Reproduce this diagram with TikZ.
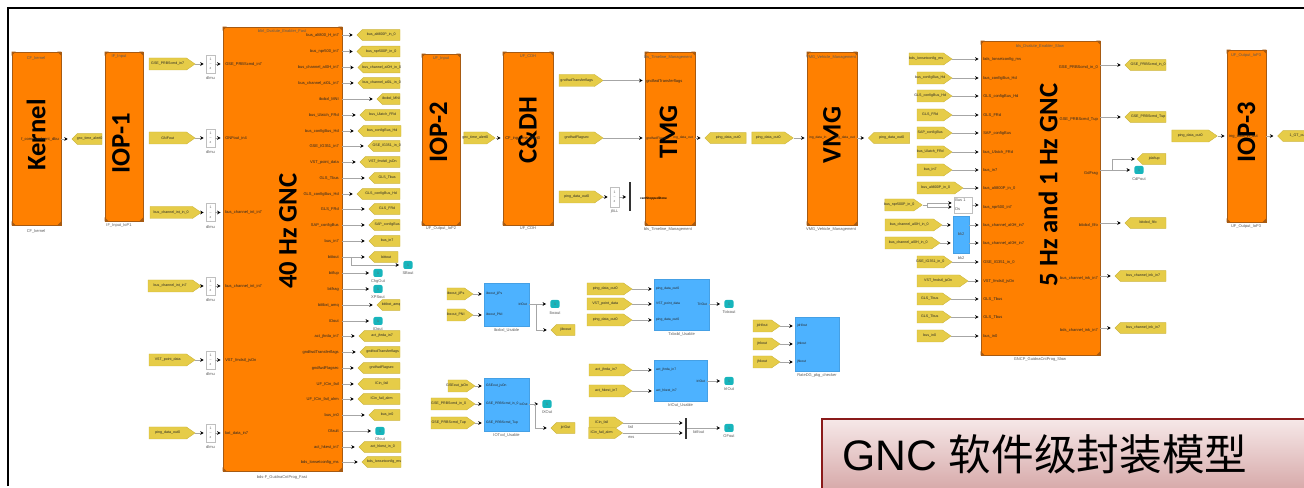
\documentclass[tikz,border=0pt]{standalone}
\usepackage{fontspec}
\setmainfont{Liberation Sans}
\newfontfamily\cjk{Noto Sans CJK SC}
\newfontfamily\cali{Carlito}[BoldFont=Carlito Bold]
\usetikzlibrary{shapes.symbols,arrows.meta,positioning}
\definecolor{og}{HTML}{FF8000}
\definecolor{ogd}{HTML}{A65A12}
\definecolor{blu}{HTML}{4DB2FF}
\definecolor{tagf}{HTML}{E6CC48}
\definecolor{tagd}{HTML}{CDB53C}
\definecolor{teal2}{HTML}{17B5BC}
\definecolor{frm}{HTML}{8A1A1A}
\definecolor{gtop}{HTML}{F6E8E8}
\definecolor{gbot}{HTML}{D6A8A8}
\catcode`\_=12
\tikzset{
  tiny3/.style={font=\fontsize{3}{3.4}\selectfont,inner sep=0pt},
  porttxt/.style={tiny3,text=black!85},
  bluetxt/.style={font=\fontsize{2.5}{3}\selectfont,inner sep=0pt,text=black!85},
  caption/.style={tiny3,text=black!65},
  tagbase/.style={shape=signal,draw=tagd,fill=tagf,line width=.3pt,inner sep=0pt,
    font=\fontsize{2.7}{3}\selectfont,text=black!85},
  tagl/.style={tagbase,signal to=west,signal pointer angle=90,minimum height=8pt,xshift=2pt},
  tagr/.style={tagbase,signal to=east,signal pointer angle=70,minimum height=9pt,xshift=-3.2pt},
  oblock/.style={draw=ogd,fill=og,line width=.5pt,inner sep=0pt},
  bblock/.style={fill=blu,draw=blu!90!black,line width=.2pt,inner sep=0pt},
  bigt/.style={font=\cali\bfseries\fontsize{20}{20}\selectfont,rotate=90,inner sep=0pt,text=black},
  wire/.style={draw=black!35,line width=.55pt,-{Stealth[black,length=2.6pt,width=2.8pt]},shorten >=1.6pt},
  wireb/.style={wire,shorten >=3pt},
  plain/.style={draw=black!35,line width=.55pt},
  dlybox/.style={draw=black!25,fill=white,line width=.3pt,minimum width=6.8pt,minimum height=13.5pt,inner sep=0pt,
    font=\fontsize{2.6}{3}\selectfont,text=black!60},
  term/.style={fill=teal2,rounded corners=1.5pt,minimum width=7pt,minimum height=6pt,inner sep=0pt,
    font=\fontsize{2.6}{3}\selectfont,text=black!60},
  busbar/.style={fill=black!80,minimum width=1.5pt,inner sep=0pt},
}
\begin{document}
\begin{tikzpicture}[x=.75pt,y=-.75pt]
\useasboundingbox (0,0) rectangle (1304,488);
% frame
\coordinate (fa) at (8,486); \coordinate (fb) at (8,8.5); \coordinate (fc) at (1304,8.5);
\draw[black,line width=1.5pt] (fa) -- (fb) -- (fc);

% orange blocks
\foreach \n/\xa/\ya/\xb/\yb in {ker/12/52/61/225,iopa/105/52/143/221,gfa/223/27/342/471,iopb/422/54/460/225,cdh/503/52/553/225,tmg/645/52/695/225,vmg/807/52/857/225,gfb/981/41/1100/355,iopc/1227/50/1266/222}{
  \node[oblock,minimum width={(\xb-\xa)*.75pt},minimum height={(\yb-\ya)*.75pt}] (\n) at ({(\xa+\xb)/2},{(\ya+\yb)/2}) {};
  \fill[ogd] (\n.north west) -- ++(4,0) -- ++(-4,4) -- cycle;
  \fill[ogd] (\n.north east) -- ++(-4,0) -- ++(4,4) -- cycle;
  \fill[ogd] (\n.south west) -- ++(4,0) -- ++(-4,-4) -- cycle;
  \fill[ogd] (\n.south east) -- ++(-4,0) -- ++(4,-4) -- cycle;
}
% big titles
\node[bigt] (tker) at (36,135) {Kernel};
\node[bigt] (tiopa) at (121,143) {IOP-1};
\node[bigt] (tgfa) at (288,231) {40 Hz GNC};
\node[bigt] (tiopb) at (438.5,132) {IOP-2};
\node[bigt] (tcdh) at (527.5,130) {C\&DH};
\node[bigt] (ttmg) at (668.5,132) {TMG};
\node[bigt] (tvmg) at (832,135) {VMG};
\node[bigt] (tgfb) at (1048,185) {5 Hz and 1 Hz GNC};
\node[bigt] (tiopc) at (1246.5,132) {IOP-3};
% block captions
\foreach \i/\x/\y/\t in {a/36/58/CF_kernel,b/36/231/CF_kernel,c/119/57/IF_Input,d/119/226/IF_Input_IoP1,e/282/31/bltrl_Dvalute_Enabler_Fast,f/282/477/bds-F_GuidnaCntProg_Fast,g/441/59/UF_Input,h/441/229/UF_Output_IoP2,i/528/57/UF_CDH,j/528/229/UF_CDH,k/668/57/bls_Timeline_Management,l/668/229/bls_Timeline_Management,m/831/57/VMG_Vehicle_Management,n/831/229/VMG_Vehicle_Management,o/1040/46/bls_Dvalute_Enabler_Slow,p/1040/359/GNCP_GuidnaCntProg_Slow,q/1246/56/UF_Output_IoP3,r/1246/227/UF_Output_IoP3}{
  \node[caption] (cap\i) at (\x,\y) {\t};
}

% Kernel - IOP-1 etc.
\node[porttxt,anchor=east] (pker) at (59,139) {f_commandsent_dbu};
\node[tagl,minimum width=22.5pt] (tk) at (87,139) {\makebox[0pt]{gnc_time_alert0}};
\draw[wireb] (ker.east |- tk) -- (tk.west);

% 40 Hz left inputs
\foreach \i/\y/\a/\b/\p/\t in {1/64/149/195/GSE_PRBScmd_in7/GSE_PRBScmd_in7,2/138/149/195/GNFout_in4/GNFout,3/212.5/150/201/bus_channel_int_in7/bus_channel_int_in_0,4/286/148/201/bus_channel_int_in7/bus_channel_int_in7,5/360/149/195/VST_fmdstl_jsOn/VST_point_data,6/433/149/195/bxt_data_in7/ping_data_out0}{
  \node[tagr,minimum width={(\b-\a)*.75pt}] (ia\i) at ({(\a+\b)/2},\y) {\makebox[0pt]{\t}};
  \node[dlybox] (da\i) at (210.5,\y) {\shortstack{1\\[-.5pt]--\\[-.5pt]z}};
  \node[caption,below=2.5pt of da\i] (dc\i) {dlmu};
  \node[porttxt,anchor=west] (ip\i) at (225,\y) {\p};
  \draw[wire] (ia\i.east) -- (da\i.west);
  \draw[wire] (da\i.east) -- (gfa.west |- da\i.east);
}

% 40 Hz right outputs
\foreach \i/\y/\a/\b/\p/\t in {1/35/357/400/bus_alt800_H_in7/bus_alt800P_in_0,2/51.5/357/400/bus_npr500_in7/bus_npr500P_in_0,3/67.5/358/400/bus_channel_aI0H_in7/bus_channel_aI0H_in_0,4/83/358/400/bus_channel_aI0L_in7/bus_channel_aI0L_in_0,5/99/377/400/ibxbxl_MNI/ibxbxl_MNI,6/115/360/400/bus_Ulatch_FRd/bus_Ulatch_FRd,7/131/358/401/bus_configBus_Hd/bus_configBus_Hd,8/146/368/400/GSE_IG351_in7/GSE_IG351_in_0,9/162/360/400/VST_point_data/VST_fmdstl_jsOn,10/178/369/400/GLS_Tbus/GLS_Tbus,11/194/357/400/GLS_configBus_Hd/GLS_configBus_Hd,12/209/369/400/GLS_FRd/GLS_FRd,13/225/369/400/SAP_configBus/SAP_configBus,14/241/369/400/bus_in7/bus_in7,15/257/369/398/bittout/bittout,18/305/377/400/bittbxt_amq/bittbxt_amq,20/336/359/400/act_jhrda_in7/act_jhrda_in7,21/352/360/400/gndfwdTransferflags/gndfwdTransferflags,22/368/358/400/gndfwdFlagsec/gndfwdFlagsec,23/384/358/400/UF_ICin_fail/ICin_fail,24/399/358/400/UF_ICin_fail_alrm/ICin_fail_alrm,25/415/369/400/bus_in0/bus_in0,27/447/359/401/act_hkest_in7/act_hkest_in_0,28/462/362/401/bds_Ionsetconfig_ms/bds_Ionsetconfig_ms}{
  \node[tagl,minimum width={(\b-\a)*.75pt}] (oa\i) at ({(\a+\b)/2},\y) {\makebox[0pt]{\t}};
  \node[porttxt,anchor=east] (op\i) at (339,\y) {\p};
  \draw[wireb] (gfa.east |- oa\i) -- (oa\i.west);
}
% 40 Hz teal terminators
\foreach \i/\y/\x/\p/\t in {16/273/378/bitfup/ChgOut,17/289/378/bitfrag/XPSout,19/321/378/IDout/IDout,26/431/380/Ofault/Ofout}{
  \node[term] (ta\i) at (\x,\y) {1};
  \node[caption,below=1.5pt of ta\i] (tc\i) {\t};
  \node[porttxt,anchor=east] (tp\i) at (339,\y) {\p};
  \draw[wireb] (gfa.east |- ta\i) -- (ta\i.west);
}
\coordinate (ja) at (351,257);
\node[term] (tsb) at (408,265) {1};
\node[caption,below=1.5pt of tsb] (tcsb) {SBout};
\draw[wireb] (ja) |- (tsb.west);

% IOP-2 / C&DH
\node[tagr,minimum width=23.5pt] (i2) at (479.5,138) {\makebox[0pt]{gnc_time_alert0}};
\draw[wire] (i2.east) -- (cdh.west |- i2.east);
\node[porttxt,anchor=west] (pc) at (505,138) {CF_ing_time_alert0};
% TMG inputs
\node[tagr,minimum width=33pt] (tm1) at (581,80.5) {\makebox[0pt]{gndfwdTransferflags}};
\node[porttxt,anchor=west] (tmp1) at (646,81.5) {gndfwdTransferflags};
\draw[wire] (tm1.east) -- (tmg.west |- tm1.east);
\node[tagr,minimum width=33pt] (tm2) at (581,138) {\makebox[0pt]{gndfwdFlagsec}};
\node[bluetxt,anchor=west] (tmp2) at (646,139) {gndfwdFlagsec};
\draw[wire] (tm2.east) -- (tmg.west |- tm2.east);
\node[tagr,minimum width=33pt] (tm3) at (581,197) {\makebox[0pt]{ping_data_out0}};
\node[dlybox,minimum height=15pt] (dm) at (614.5,197) {\shortstack{1\\[-.5pt]--\\[-.5pt]z}};
\node[caption,below=2pt of dm] (dmc) {\fontsize{2.8}{3}\selectfont jBLL};
\node[busbar,minimum height=22pt] (bm) at (629.5,196.5) {};
\node[inner sep=0pt,text=black,anchor=west,font=\bfseries\fontsize{2.4}{3}\selectfont] (bmt) at (640,199) {ramStoppedDone};
\draw[wire] (tm3.east) -- (dm.west);
\draw[wire] (dm.east) -- (bm.west |- dm.east);
% TMG out, VMG
\node[bluetxt,anchor=east] (pto) at (693,138) {ing_data_out};
\node[tagl,minimum width=31pt] (to) at (725.5,138) {\makebox[0pt]{ping_data_out0}};
\draw[wireb] (tmg.east |- to) -- (to.west);
\node[tagr,minimum width=31pt] (vi) at (772.5,138) {\makebox[0pt]{ping_data_out0}};
\draw[wire] (vi.east) -- (vmg.west |- vi.east);
\node[bluetxt,anchor=west] (pvi) at (809,138) {ing_data_in};
\node[bluetxt,anchor=east] (pvo) at (855,138) {ing_data_out};
\node[tagl,minimum width=31pt] (vo) at (889,138) {\makebox[0pt]{ping_data_out0}};
\draw[wireb] (vmg.east |- vo) -- (vo.west);

% 5 Hz left inputs
\foreach \i/\y/\a/\b/\t in {1/59/909/952/bds_Ionsetconfig_ms,2/78/917/952/bus_configBus_Hd,3/96/917/952/GLS_configBus_Hd,4/115/917/952/GLS_FRd,5/133/917/952/SAP_configBus,6/152/917/952/bus_Ulatch_FRd,7/170/917/952/bus_in7,8/188/917/963/bus_alt800P_in_0,12/262/917/952/GSE_IG351_in_0,13/281/917/968/VST_fmdstl_jsOn,14/299/917/951/GLS_Tbus,15/317/917/951/GLS_Tbus,16/336/917/951/bus_in0}{
  \node[tagr,minimum width={(\b-\a)*.75pt}] (ib\i) at ({(\a+\b)/2},\y) {\makebox[0pt]{\t}};
  \node[porttxt,anchor=west] (ibp\i) at (983,\y+.5) {\t};
  \draw[wire] (ib\i.east) -- (gfb.west |- ib\i.east);
}
% row 9: bus_npr with switch block
\node[tagr,minimum width=28pt] (ib9) at (903.5,205) {\makebox[0pt]{bus_npr500P_in_0}};
\coordinate (jb) at (927,205);
\node[draw=black!25,fill=white,line width=.3pt,minimum width=13.5pt,minimum height=12pt,inner sep=0pt] (sw) at (963,205) {};
\node[caption,anchor=west] (swa) at (955,200.5) {Bus 1};
\node[caption,anchor=west] (swb) at (955,209.5) {Ds};
\node[porttxt,anchor=west] (ibp9) at (983,207.5) {bus_npr500_in7};
\draw[plain] (ib9.east) -- (jb);
\draw[wire] (jb) |- ([yshift=-1.5pt]sw.west);
\draw[wire] (jb) |- ([yshift=1.5pt]sw.west);
\draw[wire] (sw.east) -- (gfb.west |- sw.east);
% small blue block
\node[bblock,minimum width=12pt,minimum height=28pt] (sb) at (961,234.5) {};
\node[caption] (sbc) at (961,258) {bk2};
\node[caption,text=black!70] (sbm) at (961,234) {bk2};
\foreach \i/\y/\b in {10/225/942,11/243/940}{
  \node[tagr,minimum width={(\b-885)*.75pt}] (ib\i) at ({(885+\b)/2},\y) {\makebox[0pt]{bus_channel_aI0H_in_0}};
  \node[porttxt,anchor=west] (ibp\i) at (983,\y+.5) {bus_channel_aI0H_in7};
  \draw[wire] (ib\i.east) -- (sb.west |- ib\i.east);
  \draw[wire] (sb.east |- ib\i.east) -- (gfb.west |- ib\i.east);
}
% 5 Hz right outputs
\foreach \i/\y/\a/\p/\t in {1/65/1125/GSE_PRBScmd_in_0/GSE_PRBScmd_in_0,2/117/1125/GSE_PRBScmd_Tup/GSE_PRBScmd_Tup,4/223/1125/bitxbxl_fifo/bitxbxl_fifo,5/276/1115/bus_channel_ink_in7/bus_channel_ink_in7,6/328/1115/bds_channel_ink_in7/bus_channel_ink_in7}{
  \node[tagl,minimum width={(1166-\a)*.75pt}] (ob\i) at ({(\a+1166)/2},\y) {\makebox[0pt]{\t}};
  \node[porttxt,anchor=east] (obp\i) at (1098,\y+2) {\p};
  \draw[wireb] (gfb.east |- ob\i) -- (ob\i.west);
}
\node[tagl,minimum width=21.5pt] (ob3) at (1151.5,159) {\makebox[0pt]{jdaftup}};
\node[term] (tc3) at (1139,170) {1};
\node[caption,below=2pt of tc3] (tc3c) {CdPout};
\node[porttxt,anchor=east] (obp3) at (1098,173) {GdFrag};
\coordinate (jc) at (1112,170);
\draw[plain] (gfb.east |- tc3) -- (jc);
\draw[wire] (jc) |- (ob3.west);
\draw[wireb] (jc) -- (tc3.west);

% IOP-3
\node[tagr,minimum width=34pt] (i3) at (1194.5,136) {\makebox[0pt]{ping_data_out0}};
\draw[wire] (i3.east) -- (iopc.west |- i3.east);
\node[porttxt,anchor=west] (p3) at (1229,136) {ing_data_in_out};
\node[tagl,minimum width=26pt] (o3) at (1295,136) {\makebox[0pt]{1_GT_out}};
\draw[wireb] (iopc.east |- o3) -- (o3.west);

% bottom blue blocks
\foreach \n/\xa/\ya/\xb/\yb/\t in {ba/484/283/529/326/Ibxbxl_Usable,bb/484/378/529/431/IOTxxl_Usable,bc/654/279/709/330/Txbxbl_Usable,bd/654/360/707/401/IrIOut_Usable,be/795/317/839/371/RateDG_pkg_checker}{
  \node[bblock,minimum width={(\xb-\xa)*.75pt},minimum height={(\yb-\ya)*.75pt}] (\n) at ({(\xa+\xb)/2},{(\ya+\yb)/2}) {};
  \node[caption,below=2pt of \n] (\n c) {\t};
}
\foreach \n/\b/\i/\y/\a/\e/\t in {a/ba/1/294/447/473/ibxout_jiPs,a/ba/2/315/447/473/ibxout_PNI,b/bb/1/386/448/475/GSEout_jsOn,b/bb/2/404/431/475/GSE_PRBScmd_in_0,b/bb/3/423/431/475/GSE_PRBScmd_Tup,c/bc/1/289/587/632/ping_data_out0,c/bc/2/304/587/632/VST_point_data,c/bc/3/320/587/632/ping_data_out0,d/bd/1/370/589/632/act_jhrda_in7,d/bd/2/391/589/632/act_hkest_in7,e/be/1/326/753/780/jdrifout,e/be/2/344/753/780/jtrkout,e/be/3/362/753/780/jhkout}{
  \node[tagr,minimum width={(\e-\a)*.75pt}] (i\n\i) at ({(\a+\e)/2},\y) {\makebox[0pt]{\t}};
  \node[bluetxt,anchor=west] (p\n\i) at ([xshift=1.5pt]\b.west |- i\n\i) {\t};
  \draw[wire] (i\n\i.east) -- (\b.west |- i\n\i.east);
}
% outputs of bottom blocks
\foreach \n/\b/\y/\x/\p/\t in {a/ba/304/555/IrIOut/Ibxout,c/bc/304/729/TrIOut/Totxout,d/bd/381/729/IrIOut/IrIOut}{
  \node[term] (te\n) at (\x,\y) {1};
  \node[caption,below=2pt of te\n] (te\n c) {\t};
  \node[bluetxt,anchor=east] (pe\n) at ([xshift=-1.5pt]\b.east |- te\n) {\p};
  \draw[wireb] (\b.east |- te\n) -- (te\n.west);
}
\node[term] (teb) at (547,404) {1};
\node[caption,below=2pt of teb] (tebc) {IXOut};
\node[bluetxt,anchor=east] (peb) at ([xshift=-1pt]bb.east |- teb) {IxOut};
\draw[wireb] (bb.east |- teb) -- (teb.west);
\node[tagl,minimum width=18pt] (oa) at (563,330) {\makebox[0pt]{jibxout}};
\coordinate (jba) at (536,304);
\draw[wireb] (jba) |- (oa.west);
\node[tagl,minimum width=18pt] (obb) at (563,428) {\makebox[0pt]{jirIOut}};
\coordinate (jbb) at (535,404);
\draw[wireb] (jbb) |- (obb.west);
% bus bar at bottom
\node[tagr,minimum width=25.5pt] (f1) at (606,423) {\makebox[0pt]{ICin_fail}};
\node[tagr,minimum width=25.5pt,minimum height=8pt] (f2) at (606,433) {\makebox[0pt]{ICin_fail_alrm}};
\node[busbar,minimum height=16pt] (bf) at (686,428.5) {};
\node[caption,anchor=west] (fa1) at (628,427) {fail};
\node[caption,anchor=west] (fa2) at (628,437) {exs};
\node[caption,anchor=west] (fa3) at (693,432) {bitfout};
\draw[wire] (f1.east) -- (bf.west |- f1.east);
\draw[wire] (f2.east) -- (bf.west |- f2.east);
\node[term] (tef) at (729,428) {1};
\node[caption,below=2pt of tef] (tefc) {OFout};
\draw[wireb] (bf.east |- tef) -- (tef.west);

% title box
\node[draw=frm,line width=1.5pt,top color=gtop,bottom color=gbot,minimum width={484*.75pt},minimum height={72*.75pt},inner sep=0pt,anchor=north west] (tbox) at (821,418) {};
\node[anchor=west,inner sep=0pt,font=\fontsize{32}{32}\selectfont] (ttl) at (842,454) {GNC {\cjk 软件级封装模型}};
\end{tikzpicture}
\end{document}
